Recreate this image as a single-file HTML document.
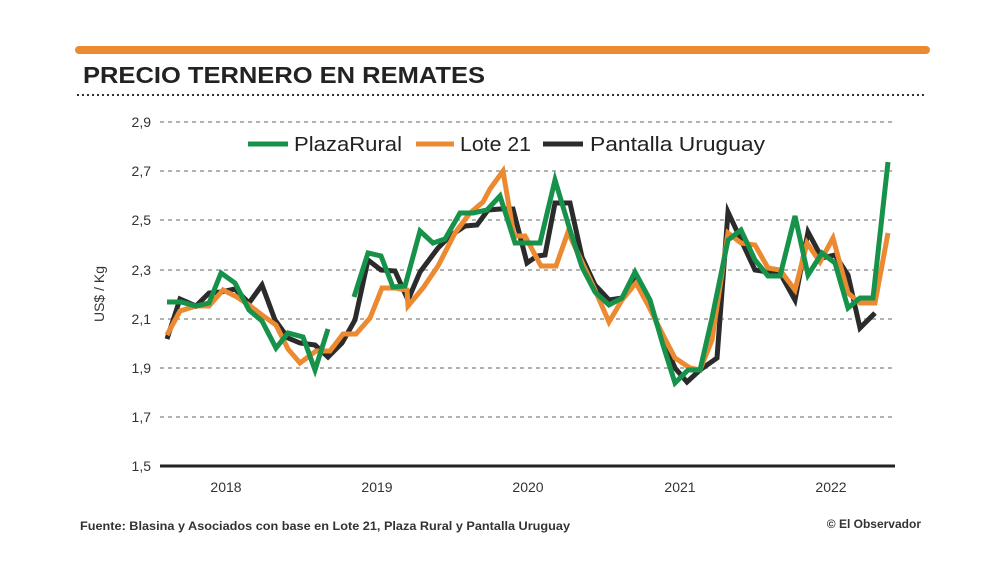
<!DOCTYPE html>
<html><head><style>
body{margin:0;background:#fff;}
</style></head><body>
<svg width="1000" height="583" viewBox="0 0 1000 583" xmlns="http://www.w3.org/2000/svg" font-family="Liberation Sans, sans-serif">
<rect x="0" y="0" width="1000" height="583" fill="#fff"/>
<rect x="75" y="46" width="855" height="8" rx="4" fill="#ec8a32"/>
<text x="83" y="83" font-size="23" font-weight="bold" fill="#222" textLength="402" lengthAdjust="spacingAndGlyphs">PRECIO TERNERO EN REMATES</text>
<line x1="77" y1="95" x2="925" y2="95" stroke="#333" stroke-width="2" stroke-dasharray="2,3"/>
<g stroke="#999" stroke-width="1.5" stroke-dasharray="4,4">
<line x1="160" y1="122" x2="895" y2="122"/>
<line x1="160" y1="171" x2="895" y2="171"/>
<line x1="160" y1="220" x2="895" y2="220"/>
<line x1="160" y1="270" x2="895" y2="270"/>
<line x1="160" y1="319" x2="895" y2="319"/>
<line x1="160" y1="368" x2="895" y2="368"/>
<line x1="160" y1="417" x2="895" y2="417"/>
</g>
<line x1="160" y1="466" x2="895" y2="466" stroke="#222" stroke-width="3"/>
<g font-size="14" fill="#333" text-anchor="end">
<text x="151" y="127">2,9</text><text x="151" y="176">2,7</text><text x="151" y="225">2,5</text>
<text x="151" y="275">2,3</text><text x="151" y="324">2,1</text><text x="151" y="373">1,9</text>
<text x="151" y="422">1,7</text><text x="151" y="471">1,5</text>
</g>
<g font-size="14" fill="#333" text-anchor="middle">
<text x="226" y="492">2018</text><text x="377" y="492">2019</text><text x="528" y="492">2020</text>
<text x="680" y="492">2021</text><text x="831" y="492">2022</text>
</g>
<text transform="translate(104,294) rotate(-90)" font-size="14" fill="#333" text-anchor="middle">US$ / Kg</text>
<g fill="none" stroke-width="5" stroke-linejoin="miter" stroke-linecap="butt">
<polyline stroke="#2b2b2b" points="167,339 180,299 196,306 209,293 221,292 235,289 249,303 262,285 275,320 288,338 300,343 315,345 328,357 342,343 355,320 368,260 381,270 395,271 408,300 420,272 438,248 450,236 465,226 477,225 488,210 500,209 513,209 527,263 537,256 545,255 555,203 570,203 582,257 595,285 609,300 622,298 635,280 648,300 663,340 675,368 687,382 700,370 717,358 728,212 741,240 755,270 768,272 780,273 795,300 808,232 822,258 835,255 848,275 860,328 875,313"/>
<polyline stroke="#ec8a32" points="167,335 180,311 196,306 209,306 223,290 237,297 249,305 262,315 276,325 288,349 300,363 316,351 330,351 343,334 356,334 370,318 382,288 395,288 407,290 408,306 423,288 438,266 455,233 470,213 483,202 490,189 503,171 514,236 525,236 541,266 556,266 568,232 582,262 595,290 609,322 622,300 636,283 648,305 663,335 675,358 690,368 700,370 712,340 728,233 741,243 755,245 768,268 780,270 795,290 807,243 820,262 833,238 848,293 860,303 875,303 888,233"/>
<polyline stroke="#17924a" points="167,302 181,302 196,306 209,303 221,273 235,283 249,310 262,321 276,348 288,333 303,337 315,370 328,329"/>
<polyline stroke="#17924a" points="354,297 368,253 381,256 393,287 405,286 420,231 433,243 445,239 460,213 473,213 487,210 500,196 515,243 527,243 540,243 555,180 570,230 582,267 595,292 609,305 622,298 635,272 650,300 663,345 675,383 688,370 700,370 712,318 728,240 741,230 755,260 768,276 780,276 795,216 808,275 822,253 835,263 848,308 860,298 873,298 888,162"/>
</g>
<g font-size="20" fill="#222">
<line x1="248" y1="144" x2="288" y2="144" stroke="#17924a" stroke-width="5"/>
<text x="294" y="151" textLength="108" lengthAdjust="spacingAndGlyphs">PlazaRural</text>
<line x1="416" y1="144" x2="454" y2="144" stroke="#ec8a32" stroke-width="5"/>
<text x="460" y="151" textLength="71" lengthAdjust="spacingAndGlyphs">Lote 21</text>
<line x1="543" y1="144" x2="583" y2="144" stroke="#2b2b2b" stroke-width="5"/>
<text x="590" y="151" textLength="175" lengthAdjust="spacingAndGlyphs">Pantalla Uruguay</text>
</g>
<text x="80" y="530" font-size="12" font-weight="bold" fill="#333" textLength="490" lengthAdjust="spacingAndGlyphs">Fuente: Blasina y Asociados con base en Lote 21, Plaza Rural y Pantalla Uruguay</text>
<text x="921" y="528" font-size="12" font-weight="bold" fill="#333" text-anchor="end">© El Observador</text>
</svg>
</body></html>
